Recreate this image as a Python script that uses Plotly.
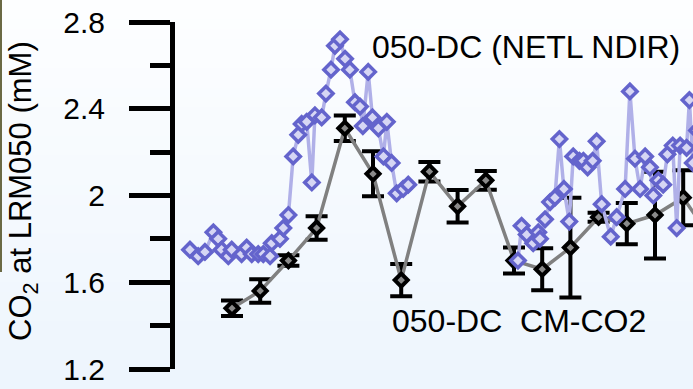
import plotly.graph_objects as go

# CM-CO2 samples: day index, concentration (mM) and +/- error
cm_days = list(range(18))
cm_co2 = [1.48, 1.56, 1.70, 1.85, 2.31, 2.10, 1.61, 2.11, 1.95, 2.07,
          1.70, 1.66, 1.76, 1.90, 1.87, 1.91, 1.99, 1.80]
cm_err = [0.036, 0.054, 0.024, 0.054, 0.059, 0.104, 0.074, 0.045, 0.075, 0.043,
          0.06, 0.097, 0.23, 0.021, 0.095, 0.2, 0.127, 0.05]

# NETL NDIR record (two logging periods, separated by a gap)
ndir_days_a = [-1.49, -1.2, -0.96, -0.66, -0.49, -0.37, -0.13, -0.01, 0.34, 0.52,
               0.70, 0.93, 1.11, 1.35, 1.41, 1.70, 1.82, 2.00, 2.17, 2.35,
               2.47, 2.65, 2.83, 2.94, 3.18, 3.33, 3.51, 3.65, 3.83, 4.01,
               4.18, 4.36, 4.54, 4.64, 4.83, 4.98, 5.19, 5.37, 5.49, 5.66,
               5.84, 6.07, 6.25]
ndir_co2_a = [1.75, 1.72, 1.74, 1.83, 1.80, 1.75, 1.72, 1.75, 1.73, 1.76,
              1.73, 1.73, 1.73, 1.72, 1.78, 1.80, 1.85, 1.91, 2.18, 2.28,
              2.33, 2.34, 2.06, 2.37, 2.36, 2.47, 2.58, 2.69, 2.72, 2.63,
              2.58, 2.43, 2.41, 2.32, 2.57, 2.36, 2.31, 2.18, 2.34, 2.15,
              2.01, 2.03, 2.05]
ndir_days_b = [10.14, 10.27, 10.45, 10.68, 10.86, 10.92, 11.10, 11.28, 11.45, 11.61,
               11.77, 11.96, 12.10, 12.32, 12.46, 12.61, 12.79, 12.93, 13.11, 13.43,
               13.64, 13.94, 14.11, 14.29, 14.47, 14.65, 14.82, 14.94, 15.12, 15.29,
               15.44, 15.63, 15.77, 15.89, 16.12, 16.22, 16.34, 16.49]
ndir_co2_b = [1.70, 1.86, 1.82, 1.78, 1.83, 1.80, 1.89, 1.97, 1.99, 2.26,
              2.03, 1.88, 2.18, 2.16, 2.16, 2.13, 2.16, 2.25, 1.96, 1.81,
              1.90, 2.03, 2.48, 2.17, 2.03, 2.18, 2.13, 2.00, 2.07, 2.05,
              2.19, 2.23, 1.85, 2.23, 2.22, 2.44, 2.15, 2.30]

y_ticks = [1.2, 1.6, 2.0, 2.4, 2.8]
y_tick_text = ["1.2", "1.6", "2", "2.4", "2.8"]

FONT = "Liberation Sans, Arial, sans-serif"
WIDTH, HEIGHT = 693, 389
L, R, T, B = 175, 0, 22, 20
PW, PH = WIDTH - L - R, HEIGHT - T - B


def xp(px):
    return (px - L) / PW


def yp(py):
    return (HEIGHT - B - py) / PH


fig = go.Figure()

fig.add_trace(go.Scatter(
    x=cm_days, y=cm_co2,
    mode="lines+markers",
    line=dict(color="#808080", width=3.5),
    marker=dict(symbol="diamond", size=10, color="#8a8a8a",
                line=dict(color="black", width=4)),
    error_y=dict(type="data", array=cm_err, visible=True,
                 color="black", thickness=4, width=11),
    showlegend=False,
))

fig.add_trace(go.Scatter(
    x=ndir_days_a + [None] + ndir_days_b,
    y=ndir_co2_a + [None] + ndir_co2_b,
    mode="lines+markers",
    connectgaps=False,
    line=dict(color="#b0b0e8", width=3.5),
    marker=dict(symbol="diamond", size=11, color="#d6d6f4",
                line=dict(color="#6464cc", width=3.5)),
    showlegend=False,
))

# soft vertical background gradient, white at top to pale blue at bottom
shapes = []
n_bands = 40
top_c = (253, 254, 255)
bot_c = (237, 245, 253)
for i in range(n_bands):
    f = i / (n_bands - 1)
    c = tuple(round(top_c[k] + (bot_c[k] - top_c[k]) * f) for k in range(3))
    y0 = HEIGHT * i / n_bands
    y1 = HEIGHT * (i + 1) / n_bands + 1
    shapes.append(dict(type="rect", xref="paper", yref="paper",
                       x0=xp(0), x1=xp(WIDTH), y0=yp(y1), y1=yp(y0),
                       fillcolor="rgb(%d,%d,%d)" % c, line=dict(width=0),
                       layer="below"))
# thin dark strip on the left margin
shapes.append(dict(type="rect", xref="paper", yref="paper",
                   x0=xp(0), x1=xp(2), y0=yp(272), y1=yp(0),
                   fillcolor="#6b6a45", line=dict(width=0), layer="below"))

annotations = [
    dict(text="050-DC (NETL NDIR)", xref="paper", yref="paper",
         x=xp(370), y=yp(47), xanchor="left", yanchor="middle",
         showarrow=False, font=dict(family=FONT, size=32, color="black")),
    dict(text="050-DC  CM-CO2", xref="paper", yref="paper",
         x=xp(390), y=yp(321), xanchor="left", yanchor="middle",
         showarrow=False, font=dict(family=FONT, size=32, color="black")),
    dict(text="CO<sub>2</sub> at LRM050 (mM)", xref="paper", yref="paper",
         x=xp(23), y=yp(191), xanchor="center", yanchor="middle",
         textangle=-90, showarrow=False,
         font=dict(family=FONT, size=31, color="black")),
]

fig.update_layout(
    width=WIDTH, height=HEIGHT,
    margin=dict(l=L, r=R, t=T, b=B, pad=0),
    paper_bgcolor="white",
    plot_bgcolor="rgba(0,0,0,0)",
    shapes=shapes,
    annotations=annotations,
    xaxis=dict(visible=False, range=[(L - 232) / 28.2, (WIDTH - 232) / 28.2]),
    yaxis=dict(
        range=[1.2, 2.8],
        tickvals=y_ticks, ticktext=y_tick_text,
        ticks="outside", ticklen=41, tickwidth=5, tickcolor="black",
        showline=True, linewidth=5, linecolor="black",
        showgrid=False, zeroline=False,
        ticklabelstandoff=18,
        tickfont=dict(family=FONT, size=30, color="black"),
        minor=dict(dtick=0.2, tick0=1.2, ticks="outside", ticklen=20,
                   tickwidth=5, tickcolor="black", showgrid=False),
    ),
)

fig.write_html("out.html")
